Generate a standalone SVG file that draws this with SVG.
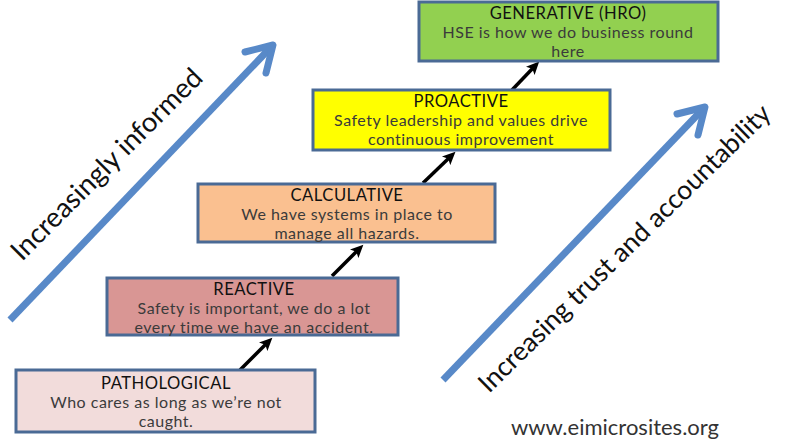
<svg xmlns="http://www.w3.org/2000/svg" width="786" height="442" viewBox="0 0 786 442">
  <style>
    .box { stroke: #4a6a95; stroke-width: 3; }
    .title { font-family: Lato, "Liberation Sans", sans-serif; font-size: 16.6px; letter-spacing: 0.5px; fill: #111; text-anchor: middle; }
    .desc { font-family: Lato, "Liberation Sans", sans-serif; font-size: 16px; letter-spacing: 0.5px; fill: #3b3b3b; text-anchor: middle; }
    .axis { fill: none; stroke: #5889c8; stroke-width: 7; stroke-linejoin: round; }
    .axis-label { font-family: Lato, "Liberation Sans", sans-serif; font-size: 27.5px; fill: #111; }
    .step { stroke: #000; stroke-width: 3.5; fill: none; marker-end: url(#head); }
    .url { font-family: Lato, "Liberation Sans", sans-serif; font-size: 22px; fill: #333; text-anchor: middle; }
  </style>
  <defs>
    <marker id="head" markerUnits="userSpaceOnUse" viewBox="0 0 14 14" markerWidth="14" markerHeight="14" refX="4" refY="7" orient="auto">
      <path d="M0,1 L13,7 L0,13 L3,7 z" fill="#000"/>
    </marker>
  </defs>

  <rect width="786" height="442" fill="#fff"/>

  <!-- large blue trend arrows -->
  <g id="axis-informed">
    <line class="axis" x1="10" y1="320" x2="272" y2="46" stroke-linecap="butt"/>
    <polyline class="axis" points="245,52 273,45 266,73" stroke-linecap="round"/>
    <text class="axis-label" transform="translate(22,262) rotate(-45)">Increasingly informed</text>
  </g>
  <g id="axis-trust">
    <line class="axis" x1="443" y1="380" x2="704" y2="108" stroke-linecap="butt"/>
    <polyline class="axis" points="677,114 705,107 698,135" stroke-linecap="round"/>
    <text class="axis-label" style="font-size:26.5px" transform="translate(489,394) rotate(-44.5)">Increasing trust and accountability</text>
  </g>

  <!-- step connectors -->
  <g id="connectors">
    <line class="step" x1="240" y1="370" x2="266" y2="344"/>
    <line class="step" x1="332" y1="276" x2="357" y2="251"/>
    <line class="step" x1="423" y1="183" x2="449" y2="158"/>
    <line class="step" x1="512" y1="90" x2="533" y2="68"/>
  </g>

  <!-- culture levels -->
  <g id="pathological">
    <rect class="box" x="16" y="370" width="299" height="62" fill="#f2dcdb"/>
    <text class="title" x="166" y="389">PATHOLOGICAL</text>
    <text class="desc" x="166" y="408">Who cares as long as we’re not</text>
    <text class="desc" x="166" y="427">caught.</text>
  </g>
  <g id="reactive">
    <rect class="box" x="107" y="278" width="291" height="57" fill="#d99694"/>
    <text class="title" x="254" y="295">REACTIVE</text>
    <text class="desc" x="254" y="314">Safety is important, we do a lot</text>
    <text class="desc" x="254" y="333">every time we have an accident.</text>
  </g>
  <g id="calculative">
    <rect class="box" x="198" y="184" width="297" height="58" fill="#fac090"/>
    <text class="title" x="347" y="201">CALCULATIVE</text>
    <text class="desc" x="347" y="220">We have systems in place to</text>
    <text class="desc" x="347" y="239">manage all hazards.</text>
  </g>
  <g id="proactive">
    <rect class="box" x="313" y="90" width="297" height="60" fill="#ffff00"/>
    <text class="title" x="461" y="107">PROACTIVE</text>
    <text class="desc" x="461" y="126">Safety leadership and values drive</text>
    <text class="desc" x="461" y="145">continuous improvement</text>
  </g>
  <g id="generative">
    <rect class="box" x="419" y="2" width="299" height="59" fill="#92d050"/>
    <text class="title" x="568" y="19">GENERATIVE (HRO)</text>
    <text class="desc" x="568" y="38">HSE is how we do business round</text>
    <text class="desc" x="568" y="57">here</text>
  </g>

  <text class="url" x="615" y="435">www.eimicrosites.org</text>
</svg>
